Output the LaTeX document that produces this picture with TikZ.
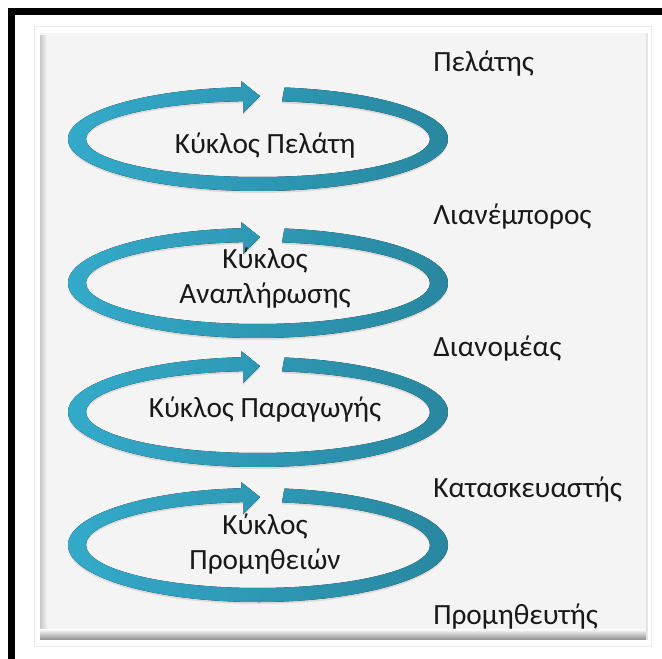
\documentclass[tikz,border=0pt]{standalone}
\usepackage{fontspec}
\setmainfont{Carlito}
\usepackage{tikz}
\usetikzlibrary{calc,shadows}
\definecolor{cyclelight}{RGB}{52,171,203}
\definecolor{cycledark}{RGB}{40,134,158}
\definecolor{panelgray}{RGB}{244,244,244}
\tikzset{
  cyclearrow/.style={left color=cyclelight, right color=cycledark, drop shadow={shadow xshift=0pt, shadow yshift=-1.5pt, opacity=0.22}},
  cyclelabel/.style={align=center, font=\fontsize{22}{26.5}\selectfont, text=black!90, inner sep=0pt},
  rolelabel/.style={anchor=base west, font=\fontsize{22}{26.5}\selectfont, text=black!90, inner sep=0pt},
  frame/.style={line width=5.25pt, draw=black}
}

\begin{document}
\begin{tikzpicture}[x=0.75pt, y=-0.75pt]
  \useasboundingbox (0,0) rectangle (662,659);
  \fill[white] (0,0) rectangle (662,659);

  % panel
  \draw[black!8, line width=0.75pt] (34,27) rectangle (651,647);
  \fill[panelgray] (40,33) rectangle (646,640);
  \shade[left color=black!22, right color=panelgray] (40,36) rectangle (47,632);
  \shade[top color=panelgray, bottom color=black!45] (40,630) rectangle (646,640);
  \draw[black!10, line width=1.5pt] (647,33) -- (647,640);

  % outer frame
  \draw[frame] (11.5,659) -- (11.5,12) -- (662,12);

  % the four cycles
  \foreach \nm/\cy/\b/\ty/\txt in {cust/139/52/146/{Κύκλος Πελάτη},
                                   repl/283/55/278/{Κύκλος\\Αναπλήρωσης},
                                   prod/412/55/410/{Κύκλος Παραγωγής},
                                   supp/545/57/544/{Κύκλος\\Προμηθειών}} {
    \pgfmathsetmacro{\bin}{\b-14}
    \coordinate (\nm c) at (258,\cy);
    \fill[cyclearrow] ($(\nm c)+(278:190 and \b)$)
      arc[start angle=278, end angle=625, x radius=190, y radius=\b]
      -- ++(0,-6) -- ($(\nm c)+(2,{-(\b+\bin)/2+2})$)
      -- ($(\nm c)+(625:172 and \bin)+(0,12)$) -- ($(\nm c)+(625:172 and \bin)$)
      arc[start angle=625, end angle=278, x radius=172, y radius=\bin] -- cycle;
    \node[cyclelabel] (\nm) at (265,\ty) {\txt};
  }

  % roles along the chain
  \node[rolelabel] (customer)     at (433,72)  {Πελάτης};
  \node[rolelabel] (retailer)     at (433,225) {Λιανέμπορος};
  \node[rolelabel] (distributor)  at (433,357) {Διανομέας};
  \node[rolelabel] (manufacturer) at (433,498) {Κατασκευαστής};
  \node[rolelabel] (supplier)     at (433,625) {Προμηθευτής};

\end{tikzpicture}
\end{document}
